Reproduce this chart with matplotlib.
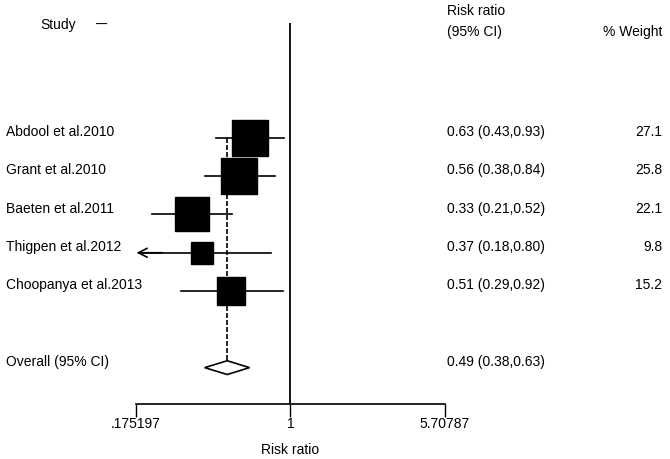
import numpy as np
import matplotlib.pyplot as plt
import matplotlib.transforms as mtransforms
from matplotlib.patches import Polygon

plt.rcParams['font.family'] = ['Liberation Sans', 'DejaVu Sans']

# Данні метааналізу
studies = ["Abdool et al.2010", "Grant et al.2010", "Baeten et al.2011",
           "Thigpen et al.2012", "Choopanya et al.2013"]
rr = [0.63, 0.56, 0.33, 0.37, 0.51]
ci_low = [0.43, 0.38, 0.21, 0.18, 0.29]
ci_high = [0.93, 0.84, 0.52, 0.80, 0.92]
weights = [27.1, 25.8, 22.1, 9.8, 15.2]

overall_label = "Overall (95% CI)"
overall_rr = 0.49
overall_low = 0.38
overall_high = 0.63

x_min, x_max = 0.175197, 5.70787
xticks = [x_min, 1, x_max]
xtick_labels = [".175197", "1", "5.70787"]

W, H = 670, 459
fig = plt.figure(figsize=(W / 100, H / 100), dpi=100)


def fx(px):
    return px / W


def fy(py):
    return 1 - py / H


fs = 10

# Область графіка (від верху вертикальної лінії до осі)
ax = fig.add_axes([fx(136), fy(404), fx(445) - fx(136), fy(23) - fy(404)])
ax.set_xscale('log')
ax.set_xlim(x_min, x_max)
ax.set_ylim(6.95, -3.0)
ax.minorticks_off()

for s in ['top', 'right', 'left']:
    ax.spines[s].set_visible(False)
ax.spines['bottom'].set_linewidth(1.2)
ax.set_yticks([])
ax.set_xticks(xticks)
ax.set_xticklabels(xtick_labels, fontsize=fs)
ax.tick_params(axis='x', direction='out', length=9, width=1, pad=0)
ax.set_xlabel("Risk ratio", fontsize=fs, labelpad=9)

# Лінія відсутності ефекту
ax.axvline(1, color='black', lw=1.3)

n = len(studies)
rows = np.arange(n)
overall_row = n + 1

# Пунктирна лінія загальної оцінки
ax.plot([overall_rr, overall_rr], [0, overall_row - 0.18], color='black',
        lw=1.2, linestyle=(0, (3, 1.2)), zorder=1)

for i in rows:
    if ci_low[i] - x_min < 0.01:
        ax.plot([ci_low[i] * 1.01, ci_high[i]], [i, i], color='black', lw=1.2, zorder=2)
        ax.annotate("", xy=(x_min * 1.005, i), xytext=(ci_low[i] * 1.3, i),
                    arrowprops=dict(arrowstyle='->', color='black', lw=1.2,
                                    mutation_scale=16, shrinkA=0, shrinkB=0))
    else:
        ax.plot([ci_low[i], ci_high[i]], [i, i], color='black', lw=1.2, zorder=2)
    ax.plot(rr[i], i, marker='s', color='black',
            markersize=5.1 * np.sqrt(weights[i]), zorder=3)

# Ромб загальної оцінки
diamond = Polygon([[overall_low, overall_row], [overall_rr, overall_row - 0.18],
                   [overall_high, overall_row], [overall_rr, overall_row + 0.18]],
                  closed=True, facecolor='white', edgecolor='black', lw=1.2, zorder=3)
ax.add_patch(diamond)

# Текстові колонки
trans = mtransforms.blended_transform_factory(fig.transFigure, ax.transData)
for i in rows:
    ax.text(fx(6), i - 0.15, studies[i], transform=trans, fontsize=fs, va='center')
    ax.text(fx(447), i - 0.15, f"{rr[i]:.2f} ({ci_low[i]:.2f},{ci_high[i]:.2f})",
            transform=trans, fontsize=fs, va='center')
    ax.text(fx(662), i - 0.15, f"{weights[i]:.1f}", transform=trans, fontsize=fs,
            va='center', ha='right')

ax.text(fx(6), overall_row - 0.15, overall_label, transform=trans, fontsize=fs, va='center')
ax.text(fx(447), overall_row - 0.15,
        f"{overall_rr:.2f} ({overall_low:.2f},{overall_high:.2f})",
        transform=trans, fontsize=fs, va='center')

# Заголовки
fig.text(fx(40), fy(25), "Study", fontsize=fs, va='center')
fig.text(fx(96), fy(25), "\u2014", fontsize=8, va='center', fontweight='bold')
fig.text(fx(447), fy(11), "Risk ratio", fontsize=fs, va='center')
fig.text(fx(447), fy(32), "(95% CI)", fontsize=fs, va='center')
fig.text(fx(662), fy(32), "% Weight", fontsize=fs, va='center', ha='right')

fig.savefig("out.png", dpi=100, facecolor='white')
